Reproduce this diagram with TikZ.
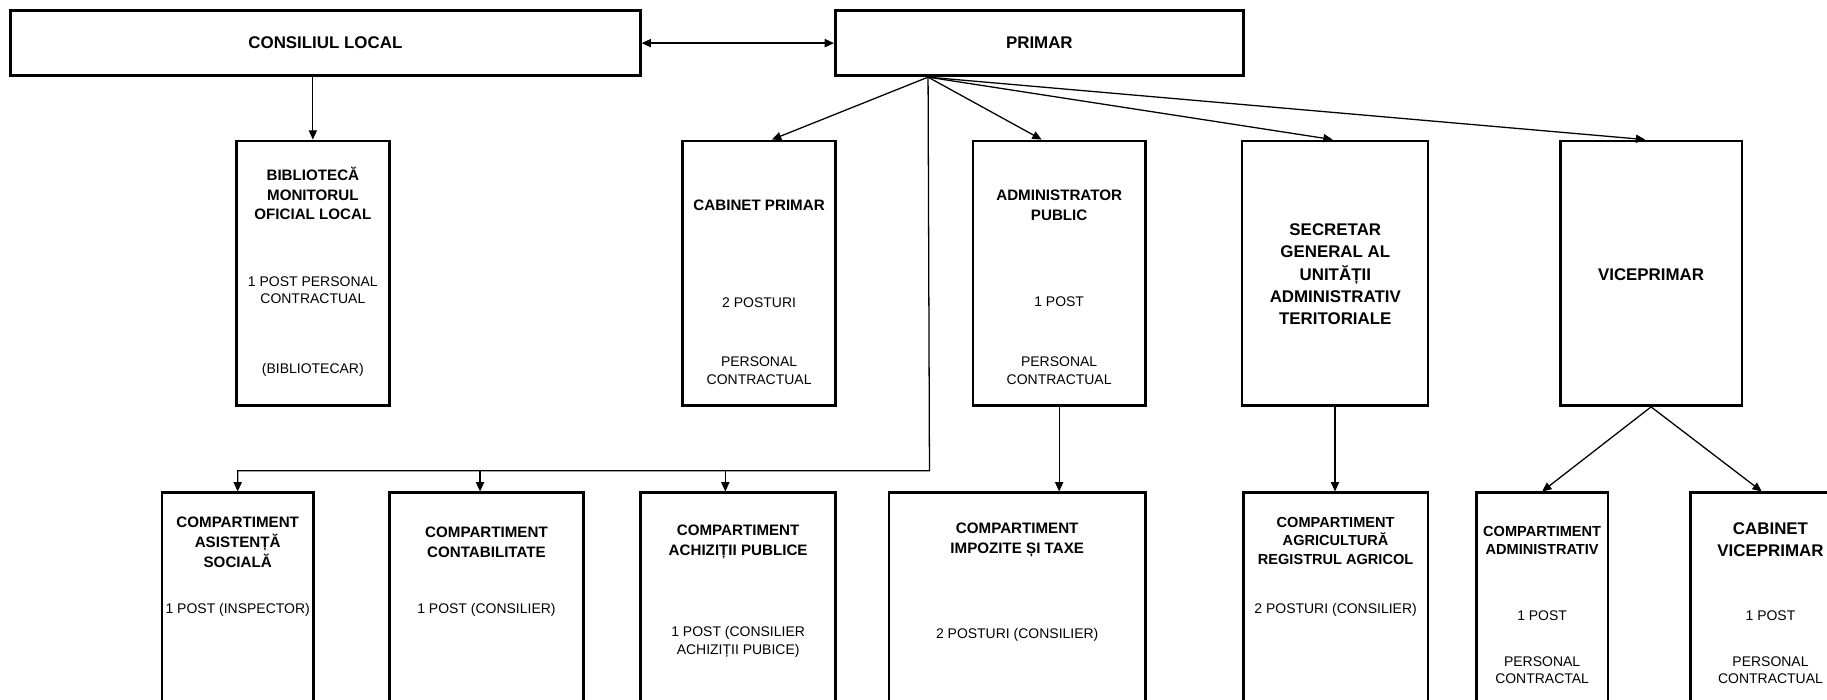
\documentclass[tikz,border=0pt]{standalone}
\usepackage{fontspec}
\setmainfont{Liberation Sans}
\usetikzlibrary{arrows.meta}

\begin{document}
\begin{tikzpicture}[x=1pt,y=1pt,yscale=-1,xscale=1,
  >={Triangle[length=8pt,width=7pt]},
  box/.style={draw, line width=2.4pt, inner sep=0pt},
  conn/.style={line width=1.1pt, ->},
  bigt/.style={font=\fontsize{14.5}{19}\selectfont\bfseries, align=center},
  ttl/.style={font=\fontsize{13}{17}\selectfont\bfseries, align=center},
  sttl/.style={font=\fontsize{12.5}{16}\selectfont\bfseries, align=center},
  txt/.style={font=\fontsize{12}{15}\selectfont, align=center}]
%set diagram left start at 0, and has height of 600
\useasboundingbox (0,0) rectangle (1568,600);
\clip (0,0) rectangle (1568,600);

%Shape: Rectangle [top row]
\node[box, bigt, minimum width=540.5pt, minimum height=56pt] (cons) at (279.25,37) {CONSILIUL LOCAL};
\node[box, bigt, minimum width=350pt, minimum height=56pt] (primar) at (892,37) {PRIMAR};

%Shape: Rectangle [middle row]
\node[box, minimum width=131pt, minimum height=227pt] (bib) at (268.5,234.5) {};
\node[box, minimum width=131pt, minimum height=227pt] (cabp) at (651.5,234.5) {};
\node[box, minimum width=148pt, minimum height=227pt] (admp) at (909,234.5) {};
\node[box, minimum width=159.5pt, minimum height=227pt] (secr) at (1145.75,234.5) {};
\node[box, minimum width=156pt, minimum height=227pt] (vice) at (1417,234.5) {};

%Shape: Rectangle [bottom row]
\node[box, minimum width=130pt, minimum height=237pt] (asist) at (204,541.5) {};
\node[box, minimum width=167pt, minimum height=237pt] (contab) at (417.5,541.5) {};
\node[box, minimum width=167pt, minimum height=237pt] (achiz) at (633.5,541.5) {};
\node[box, minimum width=220pt, minimum height=237pt] (impoz) at (873,541.5) {};
\node[box, minimum width=158.5pt, minimum height=237pt] (agri) at (1146.25,541.5) {};
\node[box, minimum width=113pt, minimum height=237pt] (admv) at (1323.5,541.5) {};
\node[box, minimum width=137pt, minimum height=237pt] (cabv) at (1519.5,541.5) {};

% Text Node
\node[ttl] (bibA) at (268.5,166) {BIBLIOTECĂ\\MONITORUL\\OFICIAL LOCAL};
\node[txt] (bibB) at (268.5,249) {1 POST PERSONAL\\CONTRACTUAL};
\node[txt] (bibC) at (268.5,317.6) {(BIBLIOTECAR)};
% Text Node
\node[ttl] (cabpA) at (651.5,176) {CABINET PRIMAR};
\node[txt] (cabpB) at (651.5,260) {2 POSTURI};
\node[txt] (cabpC) at (651.5,318) {PERSONAL\\CONTRACTUAL};
% Text Node
\node[ttl] (admpA) at (909,176) {ADMINISTRATOR\\PUBLIC};
\node[txt] (admpB) at (909,259) {1 POST};
\node[txt] (admpC) at (909,318) {PERSONAL\\CONTRACTUAL};
% Text Node
\node[bigt] (secrA) at (1146,235.4) {SECRETAR\\GENERAL AL\\UNITĂȚII\\ADMINISTRATIV\\TERITORIALE};
\node[bigt] (viceA) at (1417,236) {VICEPRIMAR};

% Text Node
\node[ttl] (asistA) at (204,465.5) {COMPARTIMENT\\ASISTENȚĂ\\SOCIALĂ};
\node[txt] (asistB) at (204,523) {1 POST (INSPECTOR)};
% Text Node
\node[ttl] (contabA) at (417.5,465.5) {COMPARTIMENT\\CONTABILITATE};
\node[txt] (contabB) at (417.5,523) {1 POST (CONSILIER)};
% Text Node
\node[ttl] (achizA) at (633.5,465) {COMPARTIMENT\\ACHIZIȚII PUBLICE};
\node[txt] (achizB) at (633.5,551) {1 POST (CONSILIER\\ACHIZIȚII PUBICE)};
% Text Node
\node[ttl] (impozA) at (873,463.5) {COMPARTIMENT\\IMPOZITE ȘI TAXE};
\node[txt] (impozB) at (873,545) {2 POSTURI (CONSILIER)};
% Text Node
\node[sttl] (agriA) at (1146.25,464) {COMPARTIMENT\\AGRICULTURĂ\\REGISTRUL AGRICOL};
\node[txt] (agriB) at (1146.25,523) {2 POSTURI (CONSILIER)};
% Text Node
\node[sttl] (admvA) at (1323.5,464) {COMPARTIMENT\\ADMINISTRATIV};
\node[txt] (admvB) at (1323.5,528) {1 POST};
\node[txt] (admvC) at (1323.5,575) {PERSONAL\\CONTRACTAL};
% Text Node
\node[bigt] (cabvA) at (1519.5,463.5) {CABINET\\VICEPRIMAR};
\node[txt] (cabvB) at (1519.5,528) {1 POST};
\node[txt] (cabvC) at (1519.5,575) {PERSONAL\\CONTRACTUAL};

%Connectors
\coordinate (prs) at ([xshift=80.7pt]primar.south west);
\coordinate (bus) at (797.7,404);
\coordinate (contabIn) at ([xshift=-5.5pt]contab.north);
\coordinate (achizIn) at ([xshift=-11pt]achiz.north);

\draw[conn, <->] (cons.east) -- (primar.west);
\draw[conn] (cons.south -| bib.north) -- (bib.north);

\draw[conn] (prs) -- ([xshift=11pt]cabp.north);
\draw[conn] (prs) -- ([xshift=-15pt]admp.north);
\draw[conn] (prs) -- ([xshift=-2pt]secr.north);
\draw[conn] (prs) -- ([xshift=-5pt]vice.north);

\draw[conn] (prs) -- (bus) -- (bus -| asist.north) -- (asist.north);
\draw[conn] (bus -| contabIn) -- (contabIn);
\draw[conn] (bus -| achizIn) -- (achizIn);

\draw[conn] (admp.south) -- (admp.south |- impoz.north);
\draw[conn] (secr.south) -- (secr.south |- agri.north);
\draw[conn] (vice.south) -- (admv.north);
\draw[conn] (vice.south) -- ([xshift=-7.5pt]cabv.north);

\end{tikzpicture}
\end{document}
